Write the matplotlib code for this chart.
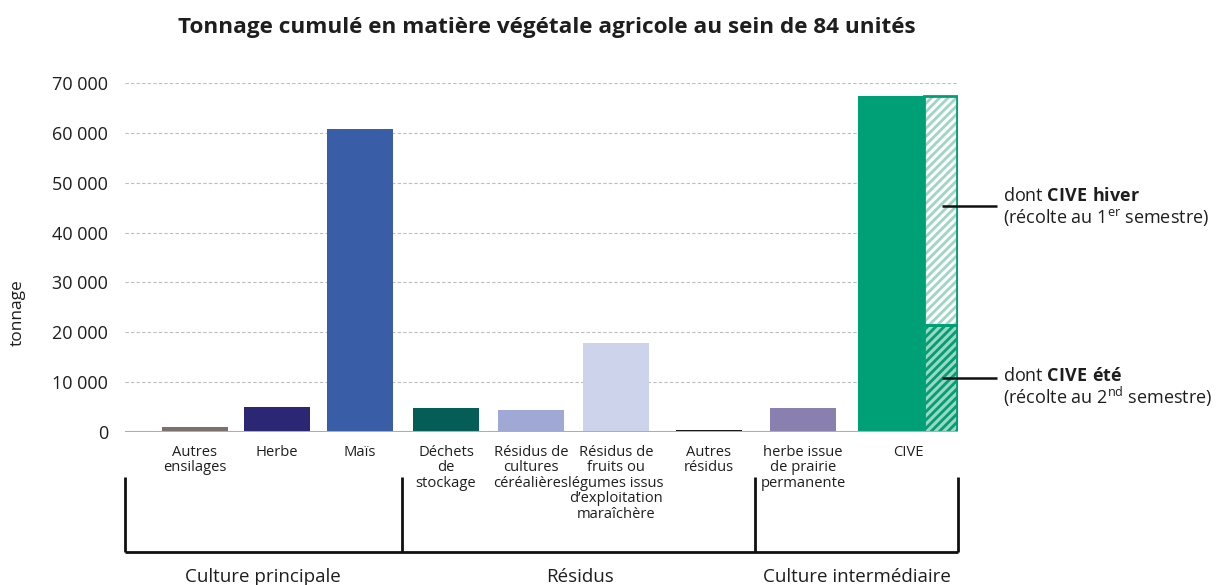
import matplotlib
matplotlib.use("Agg")
import matplotlib.pyplot as plt
from matplotlib.lines import Line2D

plt.rcParams['font.family'] = ['Open Sans', 'DejaVu Sans']
plt.rcParams['mathtext.fontset'] = 'custom'
plt.rcParams['mathtext.rm'] = 'Open Sans'
plt.rcParams['mathtext.bf'] = 'Open Sans:bold'
plt.rcParams['hatch.linewidth'] = 2.2

# ---- data ----
categories = ["Autres\nensilages", "Herbe", "Maïs", "Déchets\nde\nstockage",
              "Résidus de\ncultures\ncéréalières",
              "Résidus de\nfruits ou\nlégumes issus\nd\u2019exploitation\nmaraîchère",
              "Autres\nrésidus", "herbe issue\nde prairie\npermanente", "CIVE"]
values = [1000, 5000, 60800, 4800, 4400, 17800, 400, 4800, 67400]
cive_ete = 21400
cive_hiver = 67400 - 21400
colors = ["#7a716d", "#2b2774", "#3a5da8", "#045e57", "#a0a8d6",
          "#ced3ec", "#151515", "#8a80b0", "#00a077"]
groups = ["Culture principale", "Résidus", "Culture intermédiaire"]
yticks = [0, 10000, 20000, 30000, 40000, 50000, 60000, 70000]
ytick_labels = ["0", "10 000", "20 000", "30 000", "40 000", "50 000", "60 000", "70 000"]

# ---- layout (pixels) ----
W, H = 1222, 585
ax_left, ax_right = 125, 958
ax_top, ax_bottom = 83, 432
centers = [70, 152, 235, 321, 406, 491, 584, 678, 766]  # offsets from left of axes
bw = 66
light_green = "#9fd6c2"
txt = "#1e1e1e"

fig = plt.figure(figsize=(W / 100, H / 100), dpi=100)
ax = fig.add_axes([ax_left / W, 1 - ax_bottom / H, (ax_right - ax_left) / W,
                   (ax_bottom - ax_top) / H])
ax.set_xlim(0, ax_right - ax_left)
ax.set_ylim(0, 70000)

for c, v, col in zip(centers, values, colors):
    ax.bar(c, v, width=bw, color=col, zorder=3)

# hatched CIVE column
hx = centers[-1] + bw / 2 + 17
ax.bar(hx, cive_ete, width=33, color="#00a077", edgecolor=light_green,
       linewidth=0, hatch="////", zorder=3)
ax.bar(hx, cive_hiver, bottom=cive_ete, width=33, color=light_green,
       edgecolor="white", linewidth=0, hatch="////", zorder=3)
ax.bar(hx, cive_ete, width=33, fill=False, edgecolor="#00a077", linewidth=2, zorder=4)
ax.bar(hx, cive_hiver, bottom=cive_ete, width=33, fill=False, edgecolor="#00a077",
       linewidth=2, zorder=4)

# grid and baseline
for t in yticks[1:]:
    ax.axhline(t, color="#bdbdbd", lw=0.8, ls=(0, (3, 2)), zorder=1)
ax.axhline(0, color="#b3adaa", lw=2.2, zorder=4)

for s in ax.spines.values():
    s.set_visible(False)
ax.set_yticks(yticks)
ax.set_yticklabels(ytick_labels, fontsize=13, color=txt)
ax.tick_params(axis="y", length=0, pad=12)
tick_pos = centers[:-1] + [centers[-1] + 17]
ax.set_xticks(tick_pos)
ax.set_xticklabels(categories, fontsize=10.6, color=txt, linespacing=1.06, va="top")
ax.tick_params(axis="x", length=0, pad=9)

# title and y label
fig.text(547 / W, 1 - 28 / H, "Tonnage cumulé en matière végétale agricole au sein de 84 unités",
         ha="center", va="center", fontsize=16.2, fontweight="bold", color=txt)
fig.text(18 / W, 1 - 313 / H, "tonnage", rotation=90, ha="center", va="center",
         fontsize=12.5, color=txt)

# brackets
def fl(xs, ys, lw=2):
    fig.add_artist(Line2D([x / W for x in xs], [1 - y / H for y in ys],
                          color="#111111", lw=lw, solid_capstyle="butt"))

fl([125, 958], [552, 552])
for x in [125, 402, 755, 958]:
    fl([x, x], [477, 552])
for g, x in zip(groups, [263, 580, 857]):
    fig.text(x / W, 1 - 577 / H, g, ha="center", va="center", fontsize=13.5, color=txt)

# annotations
fl([942, 997], [206, 206], lw=1.8)
fl([942, 997], [378, 378], lw=1.8)
fs = 13
fig.text(1003 / W, 1 - 196 / H, r"dont $\mathbf{CIVE\ hiver}$", ha="left", va="center",
         fontsize=fs, color=txt)
fig.text(1003 / W, 1 - 217 / H, r"(récolte au 1$^{\mathrm{er}}$ semestre)", ha="left",
         va="center", fontsize=fs, color=txt)
fig.text(1003 / W, 1 - 376 / H, r"dont $\mathbf{CIVE\ été}$", ha="left", va="center",
         fontsize=fs, color=txt)
fig.text(1003 / W, 1 - 397 / H, r"(récolte au 2$^{\mathrm{nd}}$ semestre)", ha="left",
         va="center", fontsize=fs, color=txt)

fig.savefig("out.png", dpi=100, facecolor="white")
